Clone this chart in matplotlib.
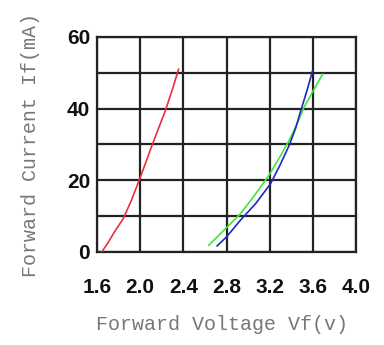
import matplotlib
matplotlib.use("Agg")
import matplotlib.pyplot as plt

# forward voltage (V) vs forward current (mA)
red_v = [1.644, 1.70, 1.76, 1.845, 1.92, 1.984, 2.05, 2.109, 2.17, 2.233, 2.30, 2.356]
red_i = [0.0, 2.5, 5.5, 9.4, 14.5, 19.5, 24.8, 29.7, 34.5, 39.4, 45.5, 51.0]

blue_v = [2.713, 2.80, 2.93, 3.07, 3.209, 3.30, 3.38, 3.44, 3.488, 3.545, 3.597]
blue_i = [1.7, 4.2, 8.9, 13.5, 19.1, 24.5, 29.7, 34.5, 39.4, 45.0, 50.5]

green_v = [2.636, 2.78, 2.93, 3.06, 3.193, 3.30, 3.395, 3.46, 3.519, 3.60, 3.69]
green_i = [1.9, 6.2, 10.7, 15.8, 21.4, 26.8, 32.0, 36.2, 40.4, 44.8, 49.6]

x_ticks = [1.6, 2.0, 2.4, 2.8, 3.2, 3.6, 4.0]
y_ticks = [0, 20, 40, 60]
y_grid = [0, 10, 20, 30, 40, 50, 60]

fig = plt.figure(figsize=(3.84, 3.45), dpi=100)
ax = fig.add_axes([0.2526, 0.2696, 0.6745, 0.6232])

grid_kw = dict(color="#222222", lw=1.6, zorder=1)
for x in x_ticks:
    ax.axvline(x, **grid_kw)
for y in y_grid:
    ax.axhline(y, **grid_kw)

ax.plot(red_v, red_i, color="#e8303c", lw=1.2, zorder=3)
ax.plot(green_v, green_i, color="#3ee63e", lw=1.2, zorder=3)
ax.plot(blue_v, blue_i, color="#2028c0", lw=1.2, zorder=4)

ax.set_xlim(1.6, 4.0)
ax.set_ylim(0, 60)
ax.set_xticks(x_ticks)
ax.set_yticks(y_ticks)
ax.set_xticklabels([f"{v:.1f}" for v in x_ticks])
ax.tick_params(length=0, labelsize=15)
ax.tick_params(axis="x", pad=19)
ax.tick_params(axis="y", pad=5)
for lab in ax.get_xticklabels() + ax.get_yticklabels():
    lab.set_fontfamily("Liberation Sans")
    lab.set_fontweight("bold")
    lab.set_color("#111111")

for s in ax.spines.values():
    s.set_color("#222222")
    s.set_linewidth(1.6)

ax.set_xlabel("Forward Voltage Vf(v)", family="Liberation Mono", fontsize=14.4, color="#777777")
ax.set_ylabel("Forward Current If(mA)", family="Liberation Mono", fontsize=14.4, color="#777777")
ax.xaxis.set_label_coords(0.483, -0.293)
ax.yaxis.set_label_coords(-0.22, 0.498)

fig.savefig("out.png", dpi=100)
